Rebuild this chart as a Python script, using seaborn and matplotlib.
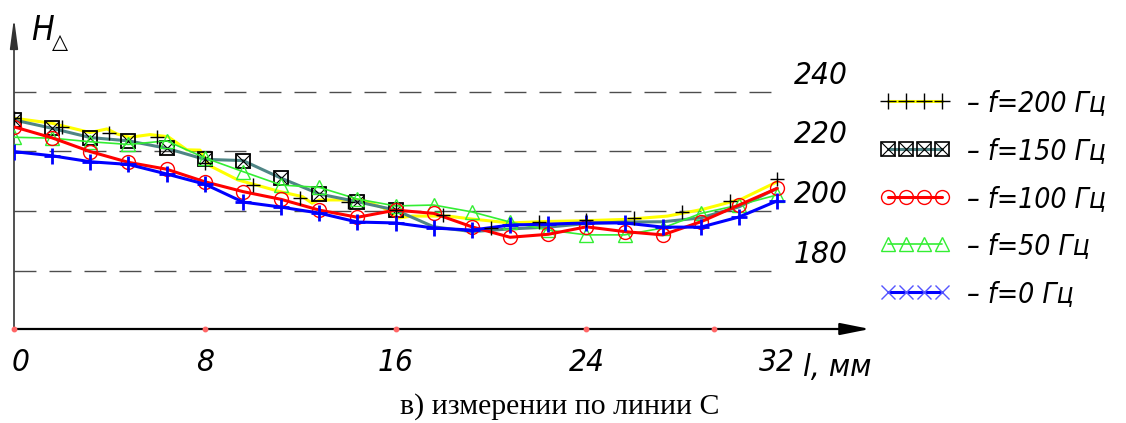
import matplotlib
matplotlib.use("Agg")
import matplotlib.pyplot as plt
import matplotlib.transforms as mtransforms
import seaborn as sns
from matplotlib.lines import Line2D
from matplotlib.legend_handler import HandlerTuple
from matplotlib import font_manager

# Distance along line C, mm (measurement step 1.6 mm)
l_mm = [0.0, 1.6, 3.2, 4.8, 6.4, 8.0, 9.6, 11.2, 12.8, 14.4, 16.0,
        17.6, 19.2, 20.8, 22.4, 24.0, 25.6, 27.2, 28.8, 30.4, 32.0]

h_f0 = [219.9, 218.5, 216.5, 215.6, 212.4, 209.0, 203.0, 201.3, 199.3, 196.3, 196.0,
        194.3, 193.6, 195.3, 195.6, 196.0, 196.0, 194.6, 194.6, 198.0, 203.4]
h_f50 = [224.7, 224.4, 223.2, 222.3, 223.5, 217.8, 213.2, 208.7, 207.9, 204.0, 201.7,
         202.0, 199.7, 196.3, 193.6, 192.0, 192.0, 194.3, 199.2, 202.0, 205.4]
h_f100 = [228.2, 224.5, 219.9, 216.3, 214.0, 209.8, 206.5, 203.9, 200.3, 197.9, 200.3,
          199.2, 194.7, 191.2, 192.2, 194.7, 193.1, 192.0, 196.4, 202.0, 207.6]
h_f150 = [230.5, 227.7, 224.6, 223.5, 221.0, 217.3, 216.9, 211.0, 205.7, 203.1, 200.3,
          194.7, 193.1, 194.0, 194.6, 195.8, 196.3, 196.4, 197.7, 201.4, 207.6]

# f = 200 Hz: traced curve and measured points (step 2 mm)
l_f200_line = [0.0, 1.59, 3.19, 3.9, 4.32, 4.86, 5.7, 6.46, 7.25, 7.8, 8.2, 9.39, 11.15,
               12.1, 12.5, 12.8, 13.8, 14.6, 15.5, 16.06, 16.7, 18.2, 19.2, 20.8, 22.3,
               23.7, 25.7, 27.4, 28.9, 30.5, 32.0]
h_f200_line = [231.1, 229.4, 226.3, 227.5, 225.8, 224.7, 225.6, 224.9, 220.5, 220.4, 215.2,
               210.4, 206.5, 204.8, 202.6, 203.7, 203.7, 203.7, 201.0, 197.6, 198.3, 198.3,
               197.3, 196.0, 196.5, 196.7, 197.2, 198.3, 200.6, 204.0, 209.8]
l_f200_pts = [0, 2, 4, 6, 8, 10, 12, 14, 16, 18, 20, 22, 24, 26, 28, 30, 32]
h_f200_pts = [231.1, 228.0, 226.0, 224.7, 216.2, 208.7, 204.3, 203.1, 200.3, 198.7,
              194.2, 196.4, 197.0, 197.6, 199.6, 203.5, 210.6]

grid_levels = [180, 200, 220, 240]
x_ticks = [0, 8, 16, 24, 32]
axis_dots = [0, 8, 16, 24, 29.35]
labels = ["f=200 Гц", "f=150 Гц", "f=100 Гц", "f=50 Гц", "f=0 Гц"]

YELLOW = "#ffff00"
TEAL = "#4f8585"
RED = "#ff0000"
GREEN = "#33ee33"
BLUE = "#0000ff"

sns.set_theme(style="white")
plt.rcParams["text.color"] = "black"
plt.rcParams["xtick.color"] = "black"

# narrow italic lettering for numbers and labels
fonts = font_manager.fontManager.ttflist
if any(f.name == "Liberation Sans Narrow" for f in fonts):
    face, stretch, k = "Liberation Sans Narrow", "normal", 1.3
elif any(f.name == "DejaVu Sans" and "condensed" in str(f.stretch) for f in fonts):
    face, stretch, k = "DejaVu Sans", "condensed", 1.1
else:
    face, stretch, k = "DejaVu Sans", "normal", 1.0
plt.rcParams["font.family"] = [face, "DejaVu Sans"]
LBL = dict(style="italic", stretch=stretch, family=[face, "DejaVu Sans"])

W, H = 1126, 423
fig = plt.figure(figsize=(W / 100, H / 100), dpi=100)
px_per_mm = 23.85
x0_px, xaxis_px, ytop_px = 14, 329, 18
x_end_px = 870
ax = fig.add_axes([x0_px / W, (H - xaxis_px) / H,
                   (x_end_px - x0_px) / W, (xaxis_px - ytop_px) / H])
ax.set_xlim(0, (x_end_px - x0_px) / px_per_mm)
ax.set_ylim(160.47, 160.47 + (xaxis_px - ytop_px) / 2.985)
ax.set_facecolor("white")
for s in ax.spines.values():
    s.set_visible(False)
ax.set_yticks([])

# dashed level lines with value labels
for v in grid_levels:
    ax.plot([0, 32.1], [v, v], color="#4d4d4d", lw=1.0, ls=(0, (15.8, 9.4)), zorder=1)
    ax.text(32.7, v + 5.5, str(v), fontsize=20.5 * k, ha="left", va="center", **LBL)

# curves
sns.lineplot(x=l_f200_line, y=h_f200_line, ax=ax, color=YELLOW, lw=2.2, zorder=2)
sns.lineplot(x=l_mm, y=h_f150, ax=ax, color=TEAL, lw=2.2, zorder=3,
             marker="s", ms=10.5, mfc="none", mec="black", mew=1.3, markevery=slice(0, 11))
ax.plot(l_mm[:11], h_f150[:11], ls="none", marker="x", ms=10, mec="black", mew=0.8, zorder=3)
sns.lineplot(x=l_mm, y=h_f50, ax=ax, color=GREEN, lw=1.2, zorder=4,
             marker="^", ms=10, mfc="none", mec=GREEN, mew=1.0)
sns.lineplot(x=l_mm, y=h_f100, ax=ax, color=RED, lw=2.2, zorder=5,
             marker="o", ms=10, mfc="none", mec=RED, mew=1.0)
sns.lineplot(x=l_mm, y=h_f0, ax=ax, color=BLUE, lw=2.2, zorder=6,
             marker="+", ms=11, mec=BLUE, mew=2.0)
ax.plot(l_f200_pts, h_f200_pts, ls="none", marker="+", ms=10, mec="black", mew=1.0, zorder=7)

# axes with arrows
ax.annotate("", xy=(0, 1), xycoords="axes fraction", xytext=(0, 0),
            arrowprops=dict(arrowstyle="-|>,head_length=1.5,head_width=0.2",
                            color="#333333", lw=1.2, shrinkA=0, shrinkB=0))
ax.annotate("", xy=(1, 0), xycoords="axes fraction", xytext=(0, 0),
            arrowprops=dict(arrowstyle="-|>,head_length=1.5,head_width=0.3",
                            color="black", lw=1.6, shrinkA=0, shrinkB=0))
ax.plot(axis_dots, [ax.get_ylim()[0]] * len(axis_dots), ls="none", marker="o",
        ms=3.2, color="#ff6666", clip_on=False, zorder=8)

ax.set_xticks(x_ticks)
ax.set_xticklabels([str(t) for t in x_ticks], fontsize=20.5 * k, **LBL)
ax.tick_params(axis="x", length=0, pad=14)
first = ax.get_xticklabels()[0]
first.set_transform(first.get_transform() + mtransforms.ScaledTranslation(0.07, 0, fig.dpi_scale_trans))

fig.text(803 / W, 1 - 367 / H, "l, мм", fontsize=20.5 * k, ha="left", va="center", **LBL)
fig.text(31 / W, 1 - 40 / H, "H", fontsize=22 * k, ha="left", va="baseline", **LBL)
fig.text(60 / W, 1 - 48 / H, "△", fontsize=15, ha="center", va="baseline",
         family=["DejaVu Sans"], style="normal")
fig.text(560 / W, 1 - 407 / H, "в) измерении по линии С", fontsize=21.5, ha="center",
         va="center", family=["Liberation Serif", "DejaVu Serif"], style="normal")

# legend
handles = [
    Line2D([], [], color=YELLOW, lw=2.2, marker="+", ms=12, mec="black", mew=1.0),
    (Line2D([], [], color=TEAL, lw=2.2, marker="s", ms=10, mfc="none", mec="black", mew=1.2),
     Line2D([], [], ls="none", marker="x", ms=9.5, mec="black", mew=0.8)),
    Line2D([], [], color=RED, lw=2.2, marker="o", ms=10, mfc="none", mec=RED, mew=1.0),
    Line2D([], [], color=GREEN, lw=1.2, marker="^", ms=10, mfc="none", mec=GREEN, mew=1.0),
    Line2D([], [], color=BLUE, lw=2.2, marker="x", ms=10, mec="#5555ff", mew=1.0),
]
fs_leg = 18.5 * k
fig.legend(handles, ["– " + t for t in labels], loc="upper left",
           bbox_to_anchor=(880 / W, 1 - 89 / H), frameon=False, numpoints=4,
           handler_map={tuple: HandlerTuple(ndivide=1, pad=0)},
           prop=dict(size=fs_leg, style="italic", stretch=stretch, family=[face, "DejaVu Sans"]),
           borderpad=0, borderaxespad=0,
           handlelength=70 / (fs_leg * 1.389), handletextpad=0.6, labelspacing=0.70)

fig.savefig("out.png", dpi=100, facecolor="white")
